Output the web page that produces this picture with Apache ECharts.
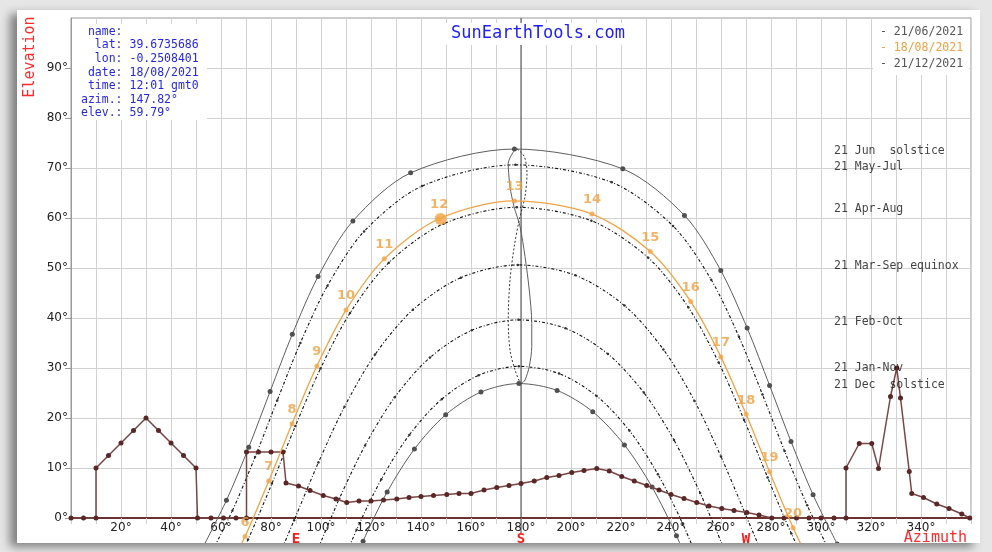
<!DOCTYPE html>
<html>
<head>
<meta charset="utf-8">
<script src="https://cdn.jsdelivr.net/npm/echarts@6/dist/echarts.min.js"></script>
<style>
  html, body { margin: 0; padding: 0; width: 992px; height: 552px; overflow: hidden; background: #e6e6e6; }
  #card { position: absolute; left: 17px; top: 10px; width: 963px; height: 533px; background: #fff;
          box-shadow: -7px 4px 9px rgba(0, 0, 0, 0.45); }
</style>
</head>
<body>
<div id="card"></div>
<script>
// Sun path diagram, Valencia area (lat 39.6735686, lon -0.2508401)
// Points are [azimuth°, elevation°], one per hour.

const sunJun21 = [[52.43,-6.18],[62.18,3.54],[71.09,14.13],[79.64,25.30],[88.54,36.77],[98.82,48.28],[112.75,59.39],[135.85,69.03],[177.37,73.80],[220.71,69.83],[245.39,60.52],[259.92,49.49],[270.46,37.99],[279.44,26.51],[288.0,15.30],[296.83,4.63],[306.47,-5.20]];
const sunMayJul = [[54.54,-8.52],[64.52,1.43],[73.63,12.20],[82.47,23.49],[91.75,35.02],[102.60,46.46],[117.24,57.32],[140.43,66.38],[177.73,70.63],[216.29,67.13],[240.82,58.40],[256.07,47.66],[267.19,36.24],[276.58,24.71],[285.43,13.39],[294.48,2.54],[304.34,-7.52]];
const sunAprAug = [[60.42,-14.79],[70.83,-4.28],[80.37,6.89],[89.75,18.39],[99.80,29.89],[111.63,41.00],[127.13,51.07],[149.02,58.84],[178.32,62.14],[208.17,59.44],[230.90,52.04],[246.93,42.14],[259.06,31.09],[269.23,19.62],[278.64,8.12],[288.13,-3.11],[298.42,-13.72]];
const sunEquinox = [[79.53,-11.91],[89.26,-0.43],[98.95,11.08],[109.41,22.27],[121.61,32.68],[136.76,41.65],[155.96,48.07],[178.74,50.62],[201.75,48.54],[221.40,42.48],[236.94,33.72],[249.40,23.42],[259.99,12.29],[269.72,0.81],[279.41,-10.69]];
const sunFebOct = [[97.78,-7.42],[107.31,3.84],[117.63,14.51],[129.48,24.14],[143.58,32.09],[160.29,37.54],[178.98,39.63],[197.79,37.94],[214.77,32.80],[229.13,25.08],[241.19,15.59],[251.64,5.02],[261.22,-6.19]];
const sunJanNov = [[105.18,-13.20],[114.26,-2.34],[124.13,7.74],[135.33,16.62],[148.29,23.77],[163.07,28.54],[179.13,30.33],[195.26,28.88],[210.22,24.41],[223.37,17.48],[234.75,8.75],[244.74,-1.22],[253.87,-12.02]];
const sunDec21 = [[108.00,-15.30],[116.83,-4.63],[126.47,5.20],[137.37,13.79],[149.87,20.65],[163.98,25.19],[179.17,26.89],[194.44,25.51],[208.70,21.25],[221.37,14.61],[232.43,6.18],[242.18,-3.54],[251.09,-14.13]];

// 18/08/2021, hourly (clock hours 5..21)
const dayHours = [5,6,7,8,9,10,11,12,13,14,15,16,17,18,19,20,21];
const dayAz = [59.21,69.60,79.11,88.42,98.34,110.00,125.31,147.26,177.39,208.42,231.71,247.85,259.95,270.06,279.42,288.84,299.05];
const dayEl = [-14.10,-3.70,7.41,18.87,30.40,41.58,51.83,59.85,63.42,60.79,53.30,43.31,32.22,20.73,9.23,-1.95,-12.51];
const nowAz = 147.82;
const nowEl = 59.79;

// analemma (sun at the same clock time through the year)
const analemmaJulDec = [[178.0,74.0],[174.9,70.9],[175.6,66.3],[177.2,62.3],[179.6,58.3],[181.6,52.3],[183.3,45.6],[184.3,38.9],[184.3,34.3],[183.3,30.3],[181.6,27.6],[180.3,26.9]];
const analemmaJanJun = [[180.3,26.9],[179.6,27.1],[177.6,29.6],[175.6,33.6],[174.9,39.6],[175.6,47.6],[177.3,54.3],[179.3,59.6],[181.6,64.3],[182.4,68.9],[181.3,72.3],[178.0,74.0]];

// local horizon profile
const horizon = [[0,0],[5,0],[10,0],[10,10],[15,12.5],[20,15],[25,17.5],[30,20],[35,17.5],[40,15],[45,12.5],[50,10],[50.6,0],[56,0],[61,0],[66,0],[70.2,0],[70.2,13.2],[75,13.2],[80,13.2],[84.8,13.2],[86,7],[91,6.4],[95.6,5.5],[100.9,4.5],[106,3.8],[110.3,3.1],[115.2,3.4],[120,3.4],[125,3.6],[130.3,3.8],[135.2,4.1],[140,4.3],[145,4.5],[150.3,4.7],[155.2,4.9],[160,4.9],[165.2,5.6],[170.3,6.1],[175.2,6.5],[180,6.9],[185.3,7.4],[190.3,8.1],[195.2,8.5],[200.3,9.1],[205.2,9.5],[210.3,9.9],[215.3,9.4],[220.3,8.3],[225.3,7.4],[230.3,6.5],[235.2,5.6],[240,4.7],[245.2,3.9],[250.3,3.1],[255.2,2.4],[260.3,1.9],[265.2,1.5],[270.3,1.1],[275.2,0.6],[280.3,0],[285.2,0],[290.2,0],[295.2,0],[300,0],[305.2,0],[310,0],[310,10],[315.3,14.9],[320.3,14.9],[323,9.9],[327.8,24.3],[330.3,30],[331.8,24],[335.3,9.3],[336.3,4.9],[341,4.1],[346.3,2.8],[351.2,1.9],[356.3,0.8],[359.5,0]];

// labels of the day arcs, placed at their noon elevation
const arcNames = ['21 Jun  solstice','21 May-Jul','21 Apr-Aug','21 Mar-Sep equinox','21 Feb-Oct','21 Jan-Nov','21 Dec  solstice'];
const arcLabelEl = [73.4,70.2,61.8,50.4,39.2,30.0,26.6];
const arcLabelAz = 305.2;

const elevationTicks = [0,10,20,30,40,50,60,70,80,90];
const southAz = 180;
const compassNames = {90: 'E', 180: 'S', 270: 'W'};

const infoLines = [
  ' name:',
  '  lat: 39.6735686',
  '  lon: -0.2508401',
  ' date: 18/08/2021',
  ' time: 12:01 gmt0',
  'azim.: ' + nowAz.toFixed(2) + '°',
  'elev.: ' + nowEl.toFixed(2) + '°'
];
const legendDates = ['- 21/06/2021', '- 18/08/2021', '- 21/12/2021'];

const mono = "'DejaVu Sans Mono', 'Liberation Mono', monospace";
const sans = "'DejaVu Sans', Verdana, sans-serif";
const orange = '#f2a445';
const dotted = [3, 2, 1, 2];

function solidArc(data) {
  return {
    type: 'line', data: data, smooth: 0.3, clip: false, z: 3,
    lineStyle: { color: '#5e5e5e', width: 1 },
    symbol: 'circle', symbolSize: 5, showSymbol: true,
    itemStyle: { color: '#505050' }
  };
}
function dottedArc(data) {
  return {
    type: 'line', data: data, smooth: 0.3, clip: false, z: 3,
    lineStyle: { color: '#111', width: 1.1, type: dotted },
    symbol: 'circle', symbolSize: 2.5, showSymbol: true,
    itemStyle: { color: '#333' }
  };
}

const dayPath = dayAz.map((a, i) => [a, dayEl[i]]);
const dayMarks = dayAz.map((a, i) => [a, dayEl[i], dayHours[i]]).filter(p => p[1] > -5);

const chart = echarts.init(document.getElementById('card'));
chart.setOption({
  animation: false,
  backgroundColor: '#fff',
  grid: { left: 54, top: 8, right: 9, bottom: 25, show: true, borderColor: '#9a9a9a', borderWidth: 1,
          containLabel: false, outerBoundsMode: 'none' },
  xAxis: [
    {
      type: 'value', min: 0, max: 360, interval: 10,
      axisLine: { show: true, onZero: false, lineStyle: { color: '#6b3232', width: 2 } },
      axisTick: { show: true, length: 6, lineStyle: { color: '#cfcfcf' } },
      axisLabel: { margin: 4, fontFamily: sans, fontSize: 12, color: '#222',
        formatter: v => (v % 20 === 0 && v > 0 && v < 360) ? v + '°' : '' },
      splitLine: { show: true, lineStyle: { color: '#d2d2d2', width: 1 } }
    },
    {
      type: 'value', min: 0, max: 360, interval: 90, position: 'bottom',
      axisLine: { show: false }, axisTick: { show: false }, splitLine: { show: false },
      axisLabel: { margin: 14, fontFamily: mono, fontWeight: 'bold', fontSize: 14, color: '#ff1a1a',
        formatter: v => compassNames[v] || '' }
    }
  ],
  yAxis: {
    type: 'value', min: 0, max: 100, interval: 10,
    axisLine: { show: true, lineStyle: { color: '#9a9a9a' } },
    axisTick: { show: true, length: 6, customValues: elevationTicks, lineStyle: { color: '#9a9a9a' } },
    axisLabel: { margin: 3, fontFamily: sans, fontSize: 12,
      color: v => (v === 0 || v === 90) ? '#ff2020' : '#222',
      formatter: v => v < 100 ? v + '°' : '' },
    splitLine: { show: true, lineStyle: { color: '#d2d2d2', width: 1 } }
  },
  series: [
    {
      type: 'line', data: [[southAz, -3], [southAz, 100]], clip: false, z: 2,
      lineStyle: { color: '#444', width: 1 }, showSymbol: false, symbol: 'none'
    },
    {
      type: 'line', data: horizon, clip: false, z: 4,
      lineStyle: { color: '#7b4545', width: 1.5 },
      symbol: 'circle', symbolSize: 5, itemStyle: { color: '#5a2626' }
    },
    solidArc(sunJun21),
    dottedArc(sunMayJul),
    dottedArc(sunAprAug),
    dottedArc(sunEquinox),
    dottedArc(sunFebOct),
    dottedArc(sunJanNov),
    solidArc(sunDec21),
    {
      type: 'line', data: analemmaJulDec, smooth: 0.3, clip: false, z: 3,
      lineStyle: { color: '#5e5e5e', width: 1 }, symbol: 'none'
    },
    {
      type: 'line', data: analemmaJanJun, smooth: 0.3, clip: false, z: 3,
      lineStyle: { color: '#333', width: 1, type: [2, 2] }, symbol: 'none'
    },
    {
      type: 'line', data: dayPath, smooth: 0.3, clip: false, z: 6,
      lineStyle: { color: orange, width: 1.3 }, symbol: 'none'
    },
    {
      type: 'scatter', data: dayMarks, clip: false, z: 7,
      symbol: 'circle', symbolSize: 5, itemStyle: { color: orange },
      label: { show: true, position: 'top', distance: 5, color: '#eda040',
        fontFamily: sans, fontWeight: 'bold', fontSize: 13, formatter: p => String(p.data[2]) }
    },
    {
      type: 'scatter', data: [[nowAz, nowEl]], clip: false, z: 8,
      symbol: 'circle', symbolSize: 12, itemStyle: { color: orange }
    },
    {
      type: 'scatter', clip: false, z: 9, symbolSize: 0,
      data: arcNames.map((n, i) => [arcLabelAz, arcLabelEl[i], n]),
      label: { show: true, position: 'right', distance: 0, color: '#111',
        fontFamily: mono, fontSize: 11.5, formatter: p => p.data[2] }
    }
  ],
  graphic: [
    { type: 'rect', z: 50, shape: { x: 55, y: 14, width: 135, height: 96 }, style: { fill: '#fff' } },
    { type: 'text', z: 51, style: { x: 64, y: 15, text: infoLines.join('\n'), fontFamily: mono, fontSize: 11.5,
        lineHeight: 13.6, fill: '#2626e8', verticalAlign: 'top' } },
    { type: 'rect', z: 50, shape: { x: 428, y: 13, width: 188, height: 22 }, style: { fill: '#fff' } },
    { type: 'text', z: 51, style: { x: 521, y: 24, text: 'SunEarthTools.com', fontFamily: mono, fontSize: 17,
        fill: '#2020ff', align: 'center', verticalAlign: 'middle' } },
    { type: 'rect', z: 50, shape: { x: 856, y: 9, width: 96, height: 56 }, style: { fill: '#fff' } },
    { type: 'text', z: 51, style: { x: 863, y: 22, text: legendDates[0], fontFamily: mono, fontSize: 11.5,
        fill: '#555', verticalAlign: 'middle' } },
    { type: 'text', z: 51, style: { x: 863, y: 38, text: legendDates[1], fontFamily: mono, fontSize: 11.5,
        fill: '#f0a040', verticalAlign: 'middle' } },
    { type: 'text', z: 51, style: { x: 863, y: 54, text: legendDates[2], fontFamily: mono, fontSize: 11.5,
        fill: '#555', verticalAlign: 'middle' } },
    { type: 'text', z: 51, x: 13, y: 47, rotation: Math.PI / 2,
      style: { x: 0, y: 0, text: 'Elevation', fontFamily: mono, fontSize: 15, fill: '#ff2a2a',
        align: 'center', verticalAlign: 'middle' } },
    { type: 'text', z: 51, style: { x: 950, y: 528, text: 'Azimuth', fontFamily: mono, fontSize: 15,
        fill: '#ff2a2a', align: 'right', verticalAlign: 'middle' } }
  ]
});
</script>
</body>
</html>
